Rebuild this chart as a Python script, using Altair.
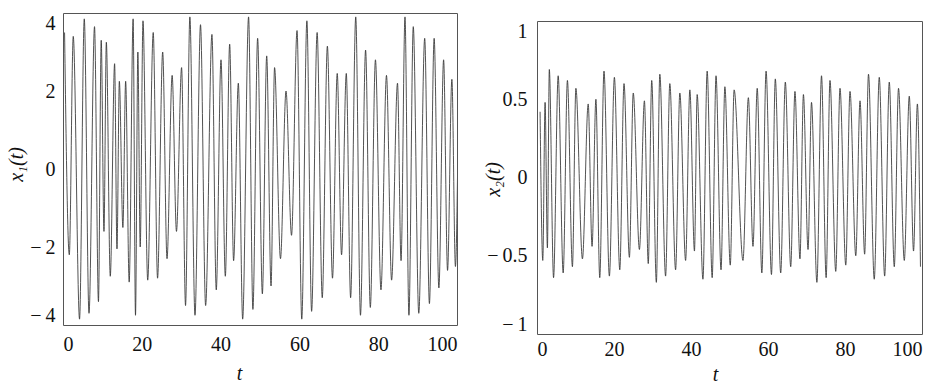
import altair as alt
import pandas as pd

# ---- x1(t): peaks and troughs ----
x1_peak_t = [0.4, 2.6, 5.4, 8.0, 9.7, 11.0, 13.1, 14.3, 15.9, 17.8, 19.0, 20.3, 22.9, 25.3, 27.7,
             30.1, 32.2, 34.9, 37.8, 40.1, 42.3, 44.5, 47.1, 49.4, 51.7, 53.7, 56.6, 59.4, 61.9, 64.5,
             67.1, 69.6, 71.9, 74.3, 76.8, 79.3, 82.1, 84.9, 86.8, 88.9, 91.8, 94.2, 96.6, 98.7, 100.4]
x1_peak_v = [3.5, 3.4, 3.85, 3.65, 3.3, 3.25, 2.7, 2.25, 2.25, 3.85, 3.0, 3.8, 3.5, 3.0, 2.4,
             2.6, 3.9, 3.7, 3.45, 2.8, 3.2, 2.2, 3.9, 3.35, 2.9, 2.6, 2.0, 3.55, 3.8, 3.5,
             3.15, 2.45, 2.45, 3.9, 3.05, 2.8, 2.4, 2.2, 3.9, 3.65, 3.35, 3.35, 2.8, 2.3, 2.0]
x1_trough_t = [1.6, 4.2, 6.6, 9.0, 10.4, 12.0, 13.7, 15.2, 16.8, 18.4, 19.6, 21.5, 24.0, 26.4, 28.8,
               31.1, 33.5, 36.2, 38.9, 41.2, 43.3, 45.6, 48.2, 50.6, 52.8, 55.2, 58.0, 60.6, 63.1, 65.8,
               68.4, 70.7, 73.0, 75.5, 78.0, 80.7, 83.4, 85.8, 87.8, 90.3, 93.0, 95.4, 97.6, 99.6]
x1_trough_v = [-2.2, -3.85, -3.7, -3.4, -1.6, -2.75, -2.05, -1.5, -2.9, -3.75, -2.0, -2.85, -2.8, -2.3, -1.6,
               -3.5, -3.75, -3.5, -3.1, -2.75, -2.35, -3.85, -3.6, -3.2, -3.0, -2.3, -1.7, -3.85, -3.65, -3.3,
               -2.8, -2.2, -3.3, -3.75, -3.55, -3.1, -2.85, -2.35, -3.75, -3.7, -3.45, -3.05, -2.6, -2.5]

# ---- x2(t): peaks and troughs ----
x2_peak_t = [0.8, 2.1, 3.2, 5.5, 7.9, 10.1, 13.3, 15.3, 17.4, 20.1, 22.6, 25.0, 27.9, 29.8, 31.9,
             34.5, 37.1, 39.7, 41.6, 44.2, 46.5, 48.8, 51.2, 54.9, 57.2, 59.5, 61.9, 64.5, 67.0, 69.2,
             71.3, 73.9, 76.1, 78.7, 81.3, 83.9, 86.1, 88.9, 91.5, 93.9, 96.7, 98.8]
x2_peak_v = [0.42, 0.48, 0.69, 0.65, 0.62, 0.57, 0.47, 0.5, 0.68, 0.64, 0.6, 0.54, 0.49, 0.62, 0.66,
             0.60, 0.54, 0.56, 0.53, 0.68, 0.65, 0.58, 0.56, 0.51, 0.57, 0.68, 0.63, 0.61, 0.55, 0.53,
             0.48, 0.65, 0.62, 0.57, 0.55, 0.49, 0.66, 0.64, 0.61, 0.57, 0.52, 0.47]
x2_trough_t = [1.5, 2.7, 4.3, 6.8, 9.2, 11.8, 14.3, 16.3, 18.8, 21.5, 24.0, 26.6, 28.9, 31.0, 33.4,
               36.0, 38.6, 40.9, 43.1, 45.5, 47.8, 50.2, 53.5, 56.1, 58.4, 60.9, 63.3, 65.9, 68.3, 70.4,
               72.7, 75.1, 77.6, 80.2, 82.8, 85.1, 87.6, 90.3, 92.8, 95.4, 97.8, 99.6]
x2_trough_v = [-0.53, -0.45, -0.64, -0.61, -0.57, -0.52, -0.44, -0.64, -0.63, -0.59, -0.51, -0.46, -0.55, -0.67, -0.63,
               -0.59, -0.53, -0.47, -0.65, -0.64, -0.59, -0.56, -0.53, -0.44, -0.61, -0.62, -0.61, -0.57, -0.52, -0.46,
               -0.67, -0.64, -0.60, -0.56, -0.50, -0.49, -0.65, -0.63, -0.57, -0.53, -0.47, -0.57]

x1_ticks = [-4, -2, 0, 2, 4]
x2_ticks = [-1, -0.5, 0, 0.5, 1]
t_ticks = [0, 20, 40, 60, 80, 100]

FONT = "Liberation Serif"
LINE = "#333333"

df1 = pd.DataFrame({"t": x1_peak_t + x1_trough_t, "v": x1_peak_v + x1_trough_v}).sort_values("t")
df2 = pd.DataFrame({"t": x2_peak_t + x2_trough_t, "v": x2_peak_v + x2_trough_v}).sort_values("t")

minus_expr = "datum.value < 0 ? '\u2212\u2009' + format(-datum.value, '') : format(datum.value, '')"

common_axis = dict(ticks=False, tickSize=0, domain=False, grid=False,
                   labelFont=FONT, labelFontSize=20, labelColor="#111111",
                   titleFont=FONT, titleFontSize=20, titleFontStyle="italic",
                   titleFontWeight="normal", titleColor="#111111",
                   titleBaseline="middle", titleAlign="center", labelFlush=True)

left = alt.Chart(df1).mark_line(color=LINE, strokeWidth=0.85, clip=True, interpolate="monotone").encode(
    x=alt.X("t:Q", scale=alt.Scale(domain=[0, 100], nice=False),
            axis=alt.Axis(values=t_ticks, labelPadding=9,
                          title="t", titleX=176, titleY=48, **common_axis)),
    y=alt.Y("v:Q", scale=alt.Scale(domain=[-4, 4], nice=False),
            axis=alt.Axis(values=x1_ticks, labelExpr=minus_expr, labelPadding=8,
                          title="x\u2081(t)", titleX=-47, titleY=151, titleAngle=270, **common_axis)),
).properties(width=394, height=312)

spacer = alt.Chart(pd.DataFrame({"a": [0]})).mark_point(opacity=0).encode(
    x=alt.value(0), y=alt.value(0)
).properties(width=385, height=8, view=alt.ViewBackground(stroke=None))

right = alt.Chart(df2).mark_line(color=LINE, strokeWidth=0.85, clip=True, interpolate="monotone").encode(
    x=alt.X("t:Q", scale=alt.Scale(domain=[0, 100], nice=False),
            axis=alt.Axis(values=t_ticks, labelPadding=5,
                          title="t", titleX=178, titleY=40, **common_axis)),
    y=alt.Y("v:Q", scale=alt.Scale(domain=[-1, 1], nice=False),
            axis=alt.Axis(values=x2_ticks, labelExpr=minus_expr, labelPadding=10,
                          title="x\u2082(t)", titleX=-44, titleY=158, titleAngle=270, **common_axis)),
).properties(width=385, height=313)

right_col = alt.vconcat(spacer, right, spacing=0, bounds="flush")

chart = alt.hconcat(left, right_col, spacing=80, bounds="flush").properties(
    padding={"left": 5, "top": 10, "right": 0, "bottom": 0},
    background="white"
).configure_view(
    stroke="#555555", strokeWidth=1
)

chart.save("out.html", embed_options={"renderer": "svg", "actions": False})
